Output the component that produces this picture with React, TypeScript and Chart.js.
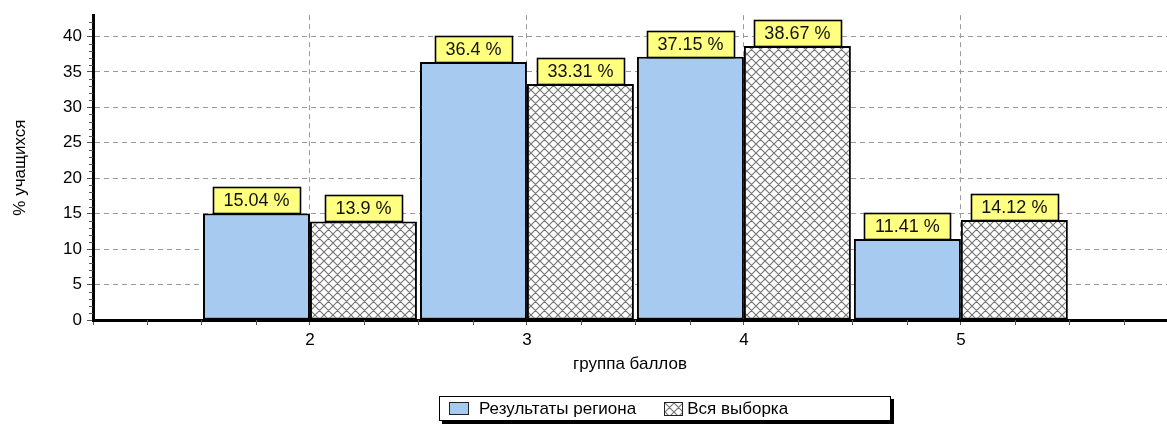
import React, { useEffect, useRef } from 'react';
import { Chart, registerables } from 'chart.js';

Chart.register(...registerables);

// ---- data ----
const categories = [2, 3, 4, 5];
const regionValues = [15.04, 36.4, 37.15, 11.41];
const allValues = [13.9, 33.31, 38.67, 14.12];
const seriesNames = ['Результаты региона', 'Вся выборка'];
const yTickValues = [0, 5, 10, 15, 20, 25, 30, 35, 40];
const xTickValues = [1, 2, 3, 4, 5];
const xAxisTitle = 'группа баллов';
const yAxisTitle = '% учащихся';

const Y_MAX = 43;
const X_MIN = 1;
const X_MAX = 5.95;

const FONT = '"Liberation Sans", Arial, Helvetica, sans-serif';
const BLUE = '#A6CAF0';
const LABEL_BG = '#FFFF80';
const GRID = '#9a9a9a';

function makeHatch(): HTMLCanvasElement {
  const s = 9;
  const c = document.createElement('canvas');
  c.width = s;
  c.height = s;
  const g = c.getContext('2d')!;
  g.fillStyle = '#ffffff';
  g.fillRect(0, 0, s, s);
  g.strokeStyle = '#767676';
  g.lineWidth = 1.15;
  g.beginPath();
  for (const k of [-s, 0, s]) {
    g.moveTo(k - 1, -1);
    g.lineTo(k + s + 1, s + 1);
    g.moveTo(k + s + 1, -1);
    g.lineTo(k - 1, s + 1);
  }
  g.stroke();
  return c;
}

const valueLabels = {
  id: 'valueLabels',
  afterDatasetsDraw(chart: any) {
    const ctx = chart.ctx as CanvasRenderingContext2D;
    ctx.save();
    ctx.font = `18px ${FONT}`;
    chart.data.datasets.forEach((ds: any, di: number) => {
      const meta = chart.getDatasetMeta(di);
      meta.data.forEach((bar: any, i: number) => {
        const v = ds.data[i].y;
        const text = `${v} %`;
        const w = Math.round(ctx.measureText(text).width + 21);
        const h = 26;
        const x = Math.round(bar.x - w / 2) + 0.5;
        const y = Math.round(bar.y - h) + 0.5;
        ctx.fillStyle = LABEL_BG;
        ctx.fillRect(x, y, w, h);
        ctx.strokeStyle = '#000';
        ctx.lineWidth = 1.6;
        ctx.strokeRect(x, y, w, h);
        ctx.fillStyle = '#111';
        ctx.textAlign = 'center';
        ctx.textBaseline = 'middle';
        ctx.fillText(text, bar.x, y + h / 2 + 1);
      });
    });
    ctx.restore();
  },
};

const minorTicks = {
  id: 'minorTicks',
  afterDraw(chart: any) {
    const ys = chart.scales.y;
    const xs = chart.scales.x;
    const ctx = chart.ctx as CanvasRenderingContext2D;
    ctx.save();
    ctx.strokeStyle = '#555';
    ctx.lineWidth = 1;
    for (let v = 1; v < Y_MAX; v++) {
      if (v % 5 === 0) continue;
      const py = Math.round(ys.getPixelForValue(v)) + 0.5;
      ctx.beginPath();
      ctx.moveTo(ys.right - 4, py);
      ctx.lineTo(ys.right, py);
      ctx.stroke();
    }
    for (let v = X_MIN + 0.25; v < X_MAX; v += 0.25) {
      if (Number.isInteger(v)) continue;
      const px = Math.round(xs.getPixelForValue(v)) + 0.5;
      ctx.beginPath();
      ctx.moveTo(px, xs.top);
      ctx.lineTo(px, xs.top + 5);
      ctx.stroke();
    }
    ctx.restore();
  },
};

export default function App() {
  const canvasRef = useRef<HTMLCanvasElement>(null);
  const swatchRef = useRef<HTMLDivElement>(null);

  useEffect(() => {
    const canvas = canvasRef.current!;
    const ctx = canvas.getContext('2d')!;
    const hatchCanvas = makeHatch();
    const hatch = ctx.createPattern(hatchCanvas, 'repeat')!;
    if (swatchRef.current) {
      swatchRef.current.style.backgroundImage = `url(${hatchCanvas.toDataURL()})`;
    }

    Chart.defaults.font.family = FONT;
    Chart.defaults.font.size = 17;
    Chart.defaults.color = '#000';

    const chart = new Chart(ctx, {
      type: 'bar',
      data: {
        datasets: [
          {
            label: seriesNames[0],
            data: categories.map((c, i) => ({ x: c, y: regionValues[i] })),
            backgroundColor: BLUE,
            borderColor: '#000',
            borderWidth: 2,
            borderSkipped: false,
            barPercentage: 1,
            categoryPercentage: 0.986,
          },
          {
            label: seriesNames[1],
            data: categories.map((c, i) => ({ x: c, y: allValues[i] })),
            backgroundColor: hatch,
            borderColor: '#000',
            borderWidth: 2,
            borderSkipped: false,
            barPercentage: 1,
            categoryPercentage: 0.986,
          },
        ],
      },
      options: {
        responsive: false,
        animation: false,
        layout: { padding: { top: 14, left: 0, right: 0, bottom: 0 } },
        plugins: {
          legend: { display: false },
          tooltip: { enabled: false },
        },
        scales: {
          x: {
            type: 'linear',
            min: X_MIN,
            max: X_MAX,
            offset: false,
            afterFit: (s: any) => {
              s.height = 105;
            },
            afterBuildTicks: (s: any) => {
              s.ticks = xTickValues.map((v) => ({ value: v }));
            },
            ticks: {
              autoSkip: false,
              maxRotation: 0,
              padding: 5,
              color: '#000',
              font: { size: 17 },
              callback: (v: any) => {
                const n = Number(v);
                return categories.includes(n) ? String(n) : '';
              },
            },
            grid: {
              offset: false,
              drawOnChartArea: true,
              tickLength: 5,
              color: (c: any) =>
                c.tick && categories.includes(c.tick.value) ? GRID : 'rgba(0,0,0,0)',
              tickColor: '#555',
              lineWidth: 1,
            },
            border: { display: true, color: '#000', width: 3, dash: [5, 4] },
            title: {
              display: true,
              text: xAxisTitle,
              color: '#000',
              font: { size: 17 },
              padding: { top: 0, bottom: 50 },
            },
          },
          y: {
            type: 'linear',
            min: 0,
            max: Y_MAX,
            afterFit: (s: any) => {
              s.width = 93;
            },
            afterBuildTicks: (s: any) => {
              s.ticks = yTickValues.map((v) => ({ value: v }));
            },
            ticks: {
              autoSkip: false,
              padding: 5,
              color: '#000',
              font: { size: 17 },
              callback: (v: any) => String(v),
            },
            grid: {
              tickLength: 6,
              color: (c: any) =>
                c.tick && c.tick.value > 0 ? GRID : 'rgba(0,0,0,0)',
              tickColor: '#555',
              lineWidth: 1,
            },
            border: { display: true, color: '#000', width: 3, dash: [5, 4] },
            title: {
              display: true,
              text: yAxisTitle,
              color: '#000',
              font: { size: 17 },
              padding: { top: 10, bottom: 0 },
            },
          },
        },
      },
      plugins: [valueLabels, minorTicks],
    });

    return () => chart.destroy();
  }, []);

  return (
    <div
      style={{
        position: 'fixed',
        left: 0,
        top: 0,
        width: 1167,
        height: 425,
        background: '#fff',
        overflow: 'hidden',
      }}
    >
      <canvas ref={canvasRef} width={1167} height={425} style={{ display: 'block' }} />
      <div
        style={{
          position: 'absolute',
          left: 439,
          top: 396,
          width: 452,
          height: 25,
          boxSizing: 'border-box',
          border: '1px solid #000',
          boxShadow: '3px 3px 0 #000',
          background: '#fff',
          display: 'flex',
          alignItems: 'center',
          paddingLeft: 9,
          font: `17px ${FONT}`,
          color: '#000',
          whiteSpace: 'nowrap',
        }}
      >
        <div
          style={{
            width: 20,
            height: 13,
            boxSizing: 'border-box',
            border: '1px solid #222',
            background: BLUE,
            marginRight: 10,
          }}
        />
        <span>{seriesNames[0]}</span>
        <div
          ref={swatchRef}
          style={{
            width: 19,
            height: 14,
            boxSizing: 'border-box',
            border: '1px solid #222',
            background: '#fff',
            marginLeft: 28,
            marginRight: 4,
          }}
        />
        <span>{seriesNames[1]}</span>
      </div>
    </div>
  );
}
